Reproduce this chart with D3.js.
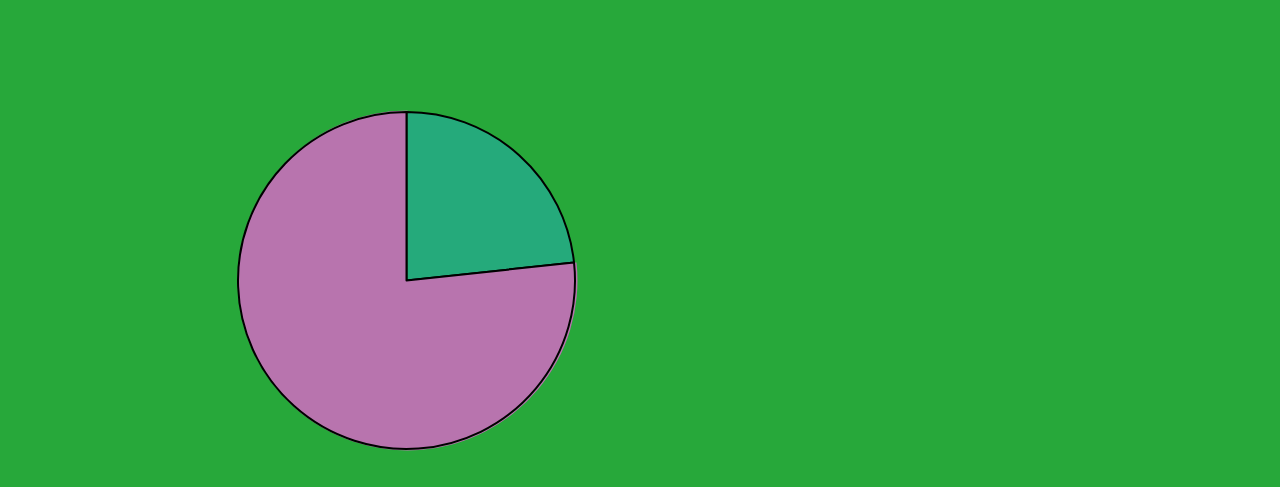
<!DOCTYPE html>
<html><head><meta charset="utf-8">
<script src="https://cdn.jsdelivr.net/npm/d3@7"></script>
<style>html,body{margin:0;padding:0;background:#27a83a;}svg{display:block;}</style>
</head><body>
<svg id="c" width="1280" height="487"></svg>
<script>
const categories = ["A", "B"];
const values = [23.3, 76.7];
const colors = ["#25aa7b", "#b874ae"];

const svg = d3.select("#c");
svg.append("rect").attr("width",1280).attr("height",487).attr("fill","#27a83a");
const pie = d3.pie().sort(null).value(d => d.v);
const arcs = pie(categories.map((c,i)=>({c, v: values[i]})));
// slight offset underlay of the large slice
const under = svg.append("g").attr("transform","translate(407.5,280.5)");
under.append("path").datum(arcs[1])
  .attr("d", d3.arc().innerRadius(0).outerRadius(170)).attr("fill", colors[1]);
const g = svg.append("g").attr("transform","translate(406.5,280.5)");
const arc = d3.arc().innerRadius(0).outerRadius(168.5);
g.selectAll("path.s").data(arcs).join("path").attr("class","s")
  .attr("d", arc).attr("fill",(d,i)=>colors[i])
  .attr("stroke","#000").attr("stroke-width",2).attr("stroke-linejoin","round");
</script>
</body></html>
